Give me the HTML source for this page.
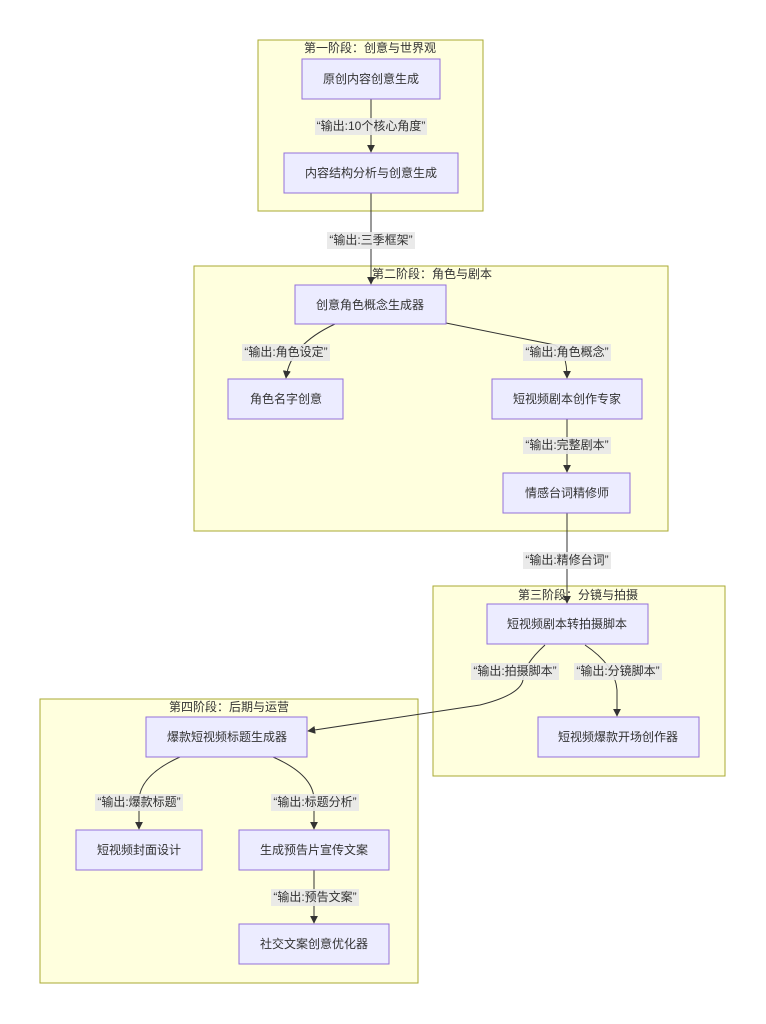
<!DOCTYPE html>
<html><head><meta charset="utf-8"><style>
html,body{margin:0;padding:0;background:#fff;}
svg{display:block;font-family:"Liberation Sans","Noto Sans CJK SC",sans-serif;}
.c{fill:#ffffde;stroke:#aaaa33;stroke-width:1;}
.n{fill:#ececff;stroke:#9370db;stroke-width:1;}
.e{fill:none;stroke:#333;stroke-width:1;}
.lb{fill:#e8e8e8;opacity:0.9;}
text{font-size:12px;fill:#333;text-anchor:middle;dominant-baseline:central;}
</style></head><body>
<svg width="766" height="1024" viewBox="0 0 766 1024">
<defs><marker id="a" viewBox="0 0 10 10" refX="9" refY="5" markerWidth="8" markerHeight="8" orient="auto"><path d="M0,0L10,5L0,10z" fill="#333"/></marker></defs>
<!-- clusters -->
<rect class="c" x="258" y="40" width="225" height="171"/>
<rect class="c" x="194" y="266" width="474" height="265"/>
<rect class="c" x="433" y="586" width="292" height="190"/>
<rect class="c" x="40" y="699" width="378" height="284"/>
<text x="370" y="48">第一阶段：创意与世界观</text>
<text x="432" y="274">第二阶段：角色与剧本</text>
<text x="578" y="595">第三阶段：分镜与拍摄</text>
<text x="229" y="707">第四阶段：后期与运营</text>
<!-- edges -->
<path class="e" d="M371,99V152" marker-end="url(#a)"/>
<path class="e" d="M371,193V284" marker-end="url(#a)"/>
<path class="e" d="M335,324Q290,345 286,378" marker-end="url(#a)"/>
<path class="e" d="M446,323L555,345Q567,352 567,378" marker-end="url(#a)"/>
<path class="e" d="M567,419V472" marker-end="url(#a)"/>
<path class="e" d="M567,513V603" marker-end="url(#a)"/>
<path class="e" d="M545,645Q523,665 523,680Q520,695 480,705L308,731" marker-end="url(#a)"/>
<path class="e" d="M585,645Q615,665 617,690V716" marker-end="url(#a)"/>
<path class="e" d="M180,757Q140,775 139,800V829" marker-end="url(#a)"/>
<path class="e" d="M273,757Q314,775 314,800V829" marker-end="url(#a)"/>
<path class="e" d="M314,870V923" marker-end="url(#a)"/>
<!-- edge labels -->
<rect class="lb" x="315" y="118" width="112" height="17"/><text x="371" y="126">“输出:10个核心角度”</text>
<rect class="lb" x="327" y="232" width="88" height="17"/><text x="371" y="240">“输出:三季框架”</text>
<rect class="lb" x="242" y="344" width="88" height="17"/><text x="286" y="352">“输出:角色设定”</text>
<rect class="lb" x="523" y="344" width="88" height="17"/><text x="567" y="352">“输出:角色概念”</text>
<rect class="lb" x="523" y="437" width="88" height="17"/><text x="567" y="445">“输出:完整剧本”</text>
<rect class="lb" x="523" y="552" width="88" height="17"/><text x="567" y="560">“输出:精修台词”</text>
<rect class="lb" x="471" y="663" width="88" height="17"/><text x="515" y="671">“输出:拍摄脚本”</text>
<rect class="lb" x="574" y="663" width="88" height="17"/><text x="618" y="671">“输出:分镜脚本”</text>
<rect class="lb" x="95" y="794" width="88" height="17"/><text x="139" y="802">“输出:爆款标题”</text>
<rect class="lb" x="271" y="794" width="88" height="17"/><text x="315" y="802">“输出:标题分析”</text>
<rect class="lb" x="271" y="889" width="88" height="17"/><text x="315" y="897">“输出:预告文案”</text>
<!-- nodes -->
<rect class="n" x="302" y="59" width="138" height="40"/><text x="371" y="79">原创内容创意生成</text>
<rect class="n" x="284" y="153" width="174" height="40"/><text x="371" y="173">内容结构分析与创意生成</text>
<rect class="n" x="295" y="285" width="151" height="39"/><text x="370" y="305">创意角色概念生成器</text>
<rect class="n" x="228" y="379" width="115" height="40"/><text x="286" y="399">角色名字创意</text>
<rect class="n" x="492" y="379" width="150" height="40"/><text x="567" y="399">短视频剧本创作专家</text>
<rect class="n" x="503" y="473" width="127" height="40"/><text x="567" y="493">情感台词精修师</text>
<rect class="n" x="487" y="604" width="161" height="40"/><text x="567" y="624">短视频剧本转拍摄脚本</text>
<rect class="n" x="538" y="717" width="161" height="40"/><text x="618" y="737">短视频爆款开场创作器</text>
<rect class="n" x="146" y="717" width="161" height="40"/><text x="227" y="737">爆款短视频标题生成器</text>
<rect class="n" x="76" y="830" width="126" height="40"/><text x="139" y="850">短视频封面设计</text>
<rect class="n" x="239" y="830" width="150" height="40"/><text x="314" y="850">生成预告片宣传文案</text>
<rect class="n" x="239" y="924" width="150" height="40"/><text x="314" y="944">社交文案创意优化器</text>
</svg>
</body></html>
